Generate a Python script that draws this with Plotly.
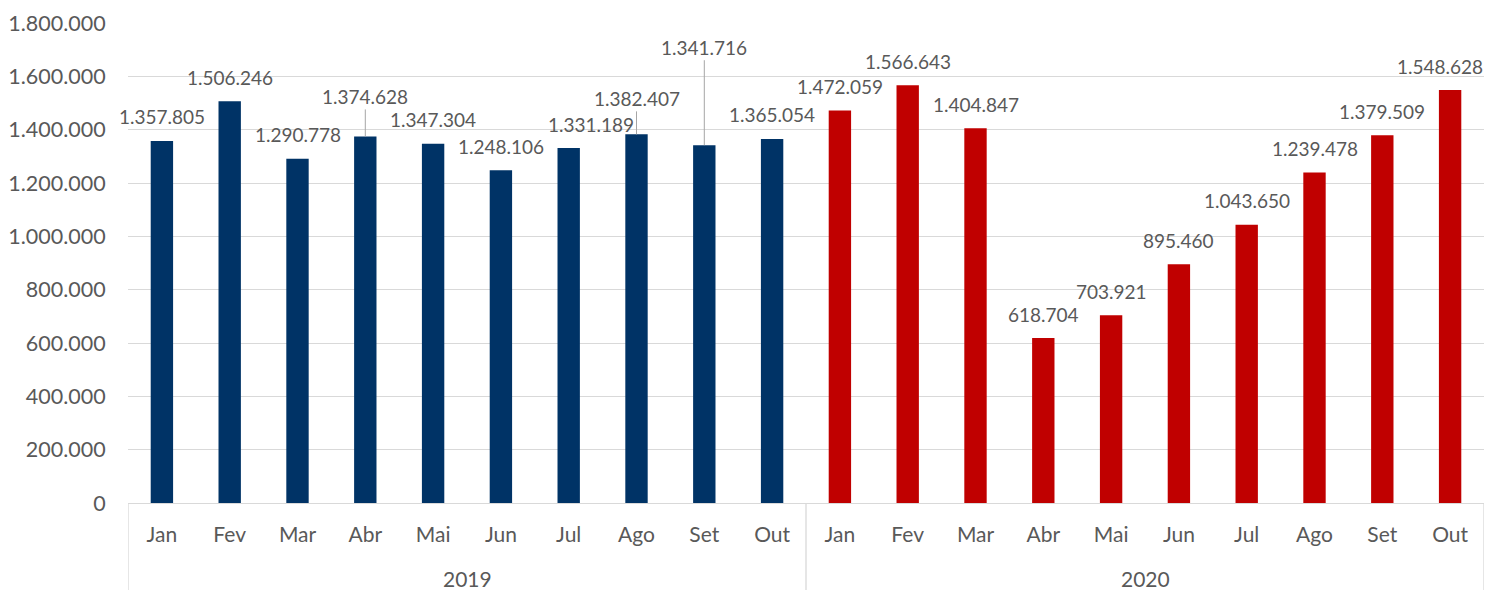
import plotly.graph_objects as go

years = ["2019"] * 10 + ["2020"] * 10
months = ["Jan", "Fev", "Mar", "Abr", "Mai", "Jun", "Jul", "Ago", "Set", "Out"] * 2
values = [1357805, 1506246, 1290778, 1374628, 1347304, 1248106, 1331189, 1382407, 1341716, 1365054,
          1472059, 1566643, 1404847, 618704, 703921, 895460, 1043650, 1239478, 1379509, 1548628]
colors = ["#003366"] * 10 + ["#C00000"] * 10

# label placement tweaks (pixels): leader-line offsets and horizontal shifts
leader = {3: -40, 7: -36, 8: -98}
xshift = {6: 22, 19: -10}

FONT = "Lato"
GRAY = "#595959"
LINE = "#d9d9d9"

cats = [f"{m} {y}" for m, y in zip(months, years)]

fig = go.Figure(go.Bar(
    x=cats, y=values, marker_color=colors, marker_line_width=0,
    hoverinfo="skip",
))

def fmt(v):
    return f"{v:,}".replace(",", ".")

anns = []
for i, v in enumerate(values):
    if i in leader:
        anns.append(dict(x=cats[i], y=v, xref="x", yref="y", text=fmt(v), showarrow=True,
                         arrowhead=0, arrowwidth=1, arrowcolor="#a6a6a6", ax=0, ay=leader[i],
                         standoff=0, font=dict(family=FONT, size=19, color=GRAY)))
    else:
        anns.append(dict(x=cats[i], y=v, xref="x", yref="y", text=fmt(v), showarrow=False,
                         yanchor="middle", yshift=24, xshift=xshift.get(i, 0),
                         font=dict(family=FONT, size=19, color=GRAY)))

# year group labels and dividers
groups = []
for y in years:
    if y not in groups:
        groups.append(y)
shapes = []
start = 0
for g in groups:
    n = years.count(g)
    center = start + (n - 1) / 2
    anns.append(dict(x=center, y=0, xref="x", yref="paper", text=g, showarrow=False,
                     yanchor="middle", yshift=-75, font=dict(family=FONT, size=21, color=GRAY)))
    shapes.append(dict(type="line", xref="x", yref="paper", x0=start - 0.5, x1=start - 0.5,
                       y0=0, y1=-0.2, line=dict(color=LINE, width=1.3)))
    start += n
shapes.append(dict(type="line", xref="x", yref="paper", x0=start - 0.5, x1=start - 0.5,
                   y0=0, y1=-0.2, line=dict(color=LINE, width=1.3)))

fig.update_layout(
    width=1495, height=590,
    margin=dict(l=120, r=19, t=15, b=95, autoexpand=False),
    paper_bgcolor="white", plot_bgcolor="white",
    separators=",.",
    bargap=0.67,
    showlegend=False,
    font=dict(family=FONT, size=21, color=GRAY),
    annotations=anns,
    shapes=shapes,
)
fig.update_yaxes(range=[0, 1800000], dtick=200000, tickformat=",d",
                 showgrid=True, gridcolor=LINE, gridwidth=1.3,
                 zeroline=False, showline=False, ticks="outside", ticklen=17,
                 tickcolor="rgba(0,0,0,0)", automargin=False,
                 tickfont=dict(family=FONT, size=21.5, color=GRAY))
fig.update_xaxes(range=[-0.5, len(cats) - 0.5], showline=True, linecolor=LINE, linewidth=1.3,
                 automargin=False,
                 tickvals=cats, ticktext=months, ticks="outside", ticklen=13,
                 tickcolor="rgba(0,0,0,0)",
                 tickfont=dict(family=FONT, size=21, color=GRAY))

fig.write_html("out.html")
